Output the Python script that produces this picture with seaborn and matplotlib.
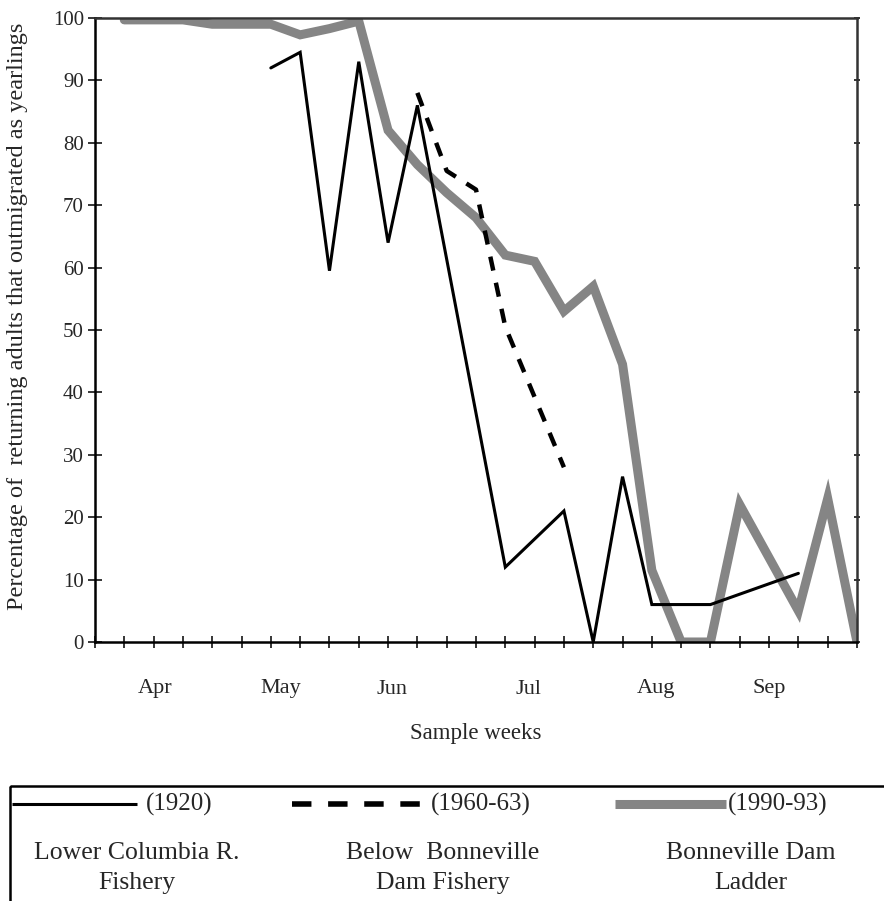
import matplotlib.pyplot as plt
import seaborn as sns
from matplotlib.lines import Line2D
from matplotlib.patches import Rectangle

# Data (x = sample week number, y = percent yearling outmigrants)
weeks_1920 = [6, 7, 8, 9, 10, 11, 14, 16, 17, 18, 19, 21, 24]
pct_1920 = [92, 94.5, 59.5, 93, 64, 86, 12, 21, 0, 26.5, 6, 6, 11]

weeks_1960 = [11, 12, 13, 14, 16]
pct_1960 = [88, 75.5, 72.5, 50.5, 28]

weeks_1990 = [1, 2, 3, 4, 5, 6, 7, 8, 9, 10, 11, 12, 13, 14, 15, 16, 17, 18,
              19, 20, 21, 22, 23, 24, 25, 26]
pct_1990 = [99.7, 99.7, 99.7, 99, 99, 99, 97.3, 98.3, 99.5, 82, 76.5, 72, 68,
            62, 61, 53, 57, 44.5, 11.5, 0, 0, 22, 13.5, 5, 23, 0]

month_labels = ["Apr", "May", "Jun", "Jul", "Aug", "Sep"]
month_pos = [2.05, 6.35, 10.15, 14.8, 19.15, 23.0]

legend_years = ["(1920)", "(1960-63)", "(1990-93)"]
legend_names = [("Lower Columbia R.", "Fishery"),
                ("Below  Bonneville", "Dam Fishery"),
                ("Bonneville Dam", "Ladder")]

sns.set_style("ticks")
plt.rcParams["font.family"] = ["Liberation Serif", "DejaVu Serif"]

GRAY = "#858585"

fig = plt.figure(figsize=(8.84, 9.01), dpi=100)
ax = fig.add_axes([95 / 884, 1 - 642 / 901, (857 - 95) / 884, (642 - 18) / 901])

sns.lineplot(x=weeks_1990, y=pct_1990, ax=ax, color=GRAY, linewidth=6.5,
             solid_joinstyle="miter", zorder=2)
sns.lineplot(x=weeks_1960, y=pct_1960, ax=ax, color="black", linewidth=3.2,
             linestyle=(0, (3.2, 2.8)), zorder=3)
sns.lineplot(x=weeks_1920, y=pct_1920, ax=ax, color="black", linewidth=2.2,
             solid_joinstyle="miter", zorder=4)

ax.set_xlim(0, 26)
ax.set_ylim(0, 100)
ax.set_yticks(range(0, 101, 10))
ax.set_xticks(range(0, 27))
ax.set_xticklabels([])
ax.xaxis.remove_overlapping_locs = False
ax.set_xticks(month_pos, minor=True)
ax.set_xticklabels(month_labels, minor=True, fontsize=16)
ax.tick_params(axis="x", which="minor", length=0, pad=27)
ax.tick_params(axis="x", which="major", direction="inout", length=9, width=1.3)
ax.tick_params(axis="y", direction="inout", length=10, width=1.3, pad=3,
               labelsize=15, right=True)
for t in ax.yaxis.get_major_ticks():
    t.tick2line.set_markersize(4)
    t.tick2line.set_color("#555555")

for side in ["left", "bottom"]:
    ax.spines[side].set_linewidth(1.8)
    ax.spines[side].set_color("black")
for side in ["top", "right"]:
    ax.spines[side].set_linewidth(1.8)
    ax.spines[side].set_color("#333333")

ax.set_xlabel("Sample weeks", fontsize=16.5, labelpad=18)
ax.set_ylabel("Percentage of  returning adults that outmigrated as yearlings",
              fontsize=17.5)
ax.yaxis.set_label_coords(-0.088, 0.522)

# Legend panel below the plot (pixel-like coordinates)
lax = fig.add_axes([0, 0, 1, 1])
lax.set_xlim(0, 884)
lax.set_ylim(901, 0)
lax.axis("off")
lax.add_patch(Rectangle((10, 786), 900, 200, fill=False, edgecolor="black",
                        linewidth=1.8))

row_y = 804
samples = [
    dict(x=(12, 137), color="black", lw=2.2, ls="-"),
    dict(x=(292, 426), color="black", lw=4, ls=(0, (3.5, 3))),
    dict(x=(615, 726), color=GRAY, lw=6.5, ls="-"),
]
year_x = [146, 431, 728]
name_x = [137, 443, 751]
for s, yl, yx, (n1, n2), nx in zip(samples, legend_years, year_x,
                                   legend_names, name_x):
    lax.add_line(Line2D(s["x"], (row_y, row_y), color=s["color"],
                        linewidth=s["lw"], linestyle=s["ls"],
                        solid_capstyle="butt", dash_capstyle="butt"))
    lax.text(yx, row_y, yl, fontsize=18, va="center", ha="left")
    lax.text(nx, 853, n1, fontsize=18.5, va="center", ha="center")
    lax.text(nx, 883, n2, fontsize=18.5, va="center", ha="center")

fig.savefig("out.png", dpi=100)
